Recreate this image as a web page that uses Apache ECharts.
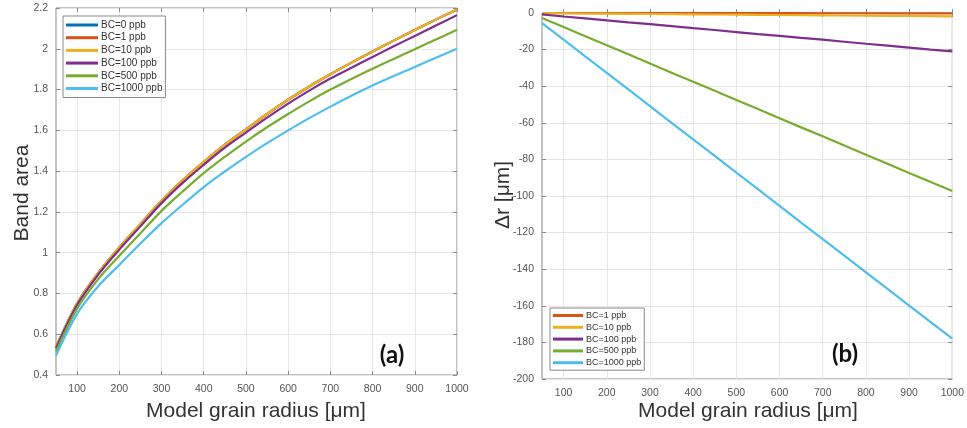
<!DOCTYPE html>
<html>
<head>
<meta charset="utf-8">
<script src="https://cdn.jsdelivr.net/npm/echarts@6/dist/echarts.min.js"></script>
<style>
  html, body { margin: 0; padding: 0; background: #fff; }
  #chart { width: 967px; height: 428px; }
</style>
</head>
<body>
<div id="chart"></div>
<script>
// Model grain radius [µm]
const radius = [50, 100, 150, 200, 250, 300, 350, 400, 450, 500, 550, 600, 650, 700, 750, 800, 850, 900, 950, 1000];
const radiusTicks = [100, 200, 300, 400, 500, 600, 700, 800, 900, 1000];

// (a) Band area vs grain radius
const areaBC0    = [0.535, 0.75, 0.90, 1.025, 1.14, 1.255, 1.355, 1.445, 1.53, 1.605, 1.68, 1.75, 1.815, 1.875, 1.932, 1.987, 2.04, 2.092, 2.143, 2.193];
const areaBC1    = [0.535, 0.75, 0.90, 1.025, 1.14, 1.255, 1.355, 1.445, 1.53, 1.605, 1.68, 1.75, 1.815, 1.875, 1.932, 1.987, 2.04, 2.092, 2.143, 2.193];
const areaBC10   = [0.535, 0.75, 0.90, 1.025, 1.14, 1.255, 1.355, 1.445, 1.53, 1.605, 1.68, 1.75, 1.815, 1.875, 1.932, 1.987, 2.04, 2.092, 2.143, 2.193];
const areaBC100  = [0.53, 0.743, 0.892, 1.015, 1.129, 1.243, 1.342, 1.431, 1.515, 1.589, 1.662, 1.731, 1.795, 1.854, 1.907, 1.96, 2.012, 2.063, 2.114, 2.165];
const areaBC500  = [0.515, 0.725, 0.87, 0.985, 1.095, 1.205, 1.30, 1.39, 1.47, 1.545, 1.615, 1.68, 1.742, 1.80, 1.852, 1.902, 1.95, 1.998, 2.046, 2.093];
const areaBC1000 = [0.495, 0.70, 0.835, 0.94, 1.045, 1.145, 1.235, 1.322, 1.398, 1.47, 1.537, 1.60, 1.66, 1.716, 1.77, 1.82, 1.866, 1.911, 1.956, 2.0];

// (b) Change in grain radius Δr [µm]
const drBC1    = [0, -0.01, -0.02, -0.03, -0.04, -0.05, -0.06, -0.07, -0.08, -0.09, -0.1, -0.11, -0.12, -0.13, -0.14, -0.15, -0.16, -0.17, -0.18, -0.19];
const drBC10   = [-0.1, -0.19, -0.28, -0.37, -0.46, -0.55, -0.64, -0.73, -0.82, -0.91, -1.0, -1.09, -1.18, -1.27, -1.36, -1.45, -1.54, -1.63, -1.72, -1.81];
const drBC100  = [-0.8, -1.9, -2.9, -4.0, -5.1, -6.1, -7.2, -8.3, -9.3, -10.4, -11.5, -12.5, -13.6, -14.6, -15.7, -16.8, -17.8, -18.9, -20.0, -21.0];
const drBC500  = [-2.7, -7.7, -12.7, -17.6, -22.6, -27.6, -32.6, -37.6, -42.5, -47.5, -52.5, -57.5, -62.5, -67.4, -72.4, -77.4, -82.4, -87.4, -92.3, -97.3];
const drBC1000 = [-5.5, -14.6, -23.7, -32.7, -41.8, -50.9, -60.0, -69.1, -78.1, -87.2, -96.3, -105.4, -114.5, -123.5, -132.6, -141.7, -150.8, -159.9, -168.9, -178.0];

const namesA = ['BC=0 ppb', 'BC=1 ppb', 'BC=10 ppb', 'BC=100 ppb', 'BC=500 ppb', 'BC=1000 ppb'];
const namesB = ['BC=1 ppb', 'BC=10 ppb', 'BC=100 ppb', 'BC=500 ppb', 'BC=1000 ppb'];
const colorsA = ['#0072BD', '#D95319', '#EDB120', '#7E2F8E', '#77AC30', '#4DBEEE'];
const colorsB = ['#D95319', '#EDB120', '#7E2F8E', '#77AC30', '#4DBEEE'];
const seriesA = [areaBC0, areaBC1, areaBC10, areaBC100, areaBC500, areaBC1000];
const seriesB = [drBC1, drBC10, drBC100, drBC500, drBC1000];

const FRAME = '#8a8a8a';
const GRIDLINE = '#e6e6e6';
const TICKTEXT = { color: '#555', fontSize: 10.5, fontFamily: 'Liberation Sans, Arial, sans-serif' };

function pairs(ys) { return radius.map((r, i) => [r, ys[i]]); }

function mainX(gridIndex) {
  return {
    type: 'value', gridIndex, min: 50, max: 1000, position: 'bottom',
    axisLine: { show: false },
    axisTick: { inside: true, length: 4, lineStyle: { color: FRAME }, customValues: radiusTicks },
    axisLabel: { ...TICKTEXT, margin: 9, customValues: radiusTicks, formatter: v => String(v) },
    splitLine: { show: true, lineStyle: { color: GRIDLINE, width: 1 } }
  };
}
function mirrorX(gridIndex) {
  return {
    type: 'value', gridIndex, min: 50, max: 1000, position: 'top',
    axisLine: { show: false },
    axisTick: { inside: true, length: 4, lineStyle: { color: FRAME }, customValues: radiusTicks },
    axisLabel: { show: false },
    splitLine: { show: false }
  };
}
function mainY(gridIndex, min, max, interval) {
  return {
    type: 'value', gridIndex, min, max, interval, position: 'left',
    axisLine: { show: false },
    axisTick: { inside: true, length: 4, lineStyle: { color: FRAME } },
    axisLabel: { ...TICKTEXT, margin: 8, formatter: v => String(Math.round(v * 10) / 10) },
    splitLine: { show: true, lineStyle: { color: GRIDLINE, width: 1 } }
  };
}
function mirrorY(gridIndex, min, max, interval) {
  return {
    type: 'value', gridIndex, min, max, interval, position: 'right',
    axisLine: { show: false },
    axisTick: { inside: true, length: 4, lineStyle: { color: FRAME } },
    axisLabel: { show: false },
    splitLine: { show: false }
  };
}

const series = [];
seriesA.forEach((ys, i) => series.push({
  name: namesA[i], type: 'line', xAxisIndex: 0, yAxisIndex: 0,
  data: pairs(ys), showSymbol: false, symbol: 'none', smooth: 0.35,
  lineStyle: { width: 2.2, color: colorsA[i] }, itemStyle: { color: colorsA[i] }
}));
seriesB.forEach((ys, i) => series.push({
  name: namesB[i], type: 'line', xAxisIndex: 1, yAxisIndex: 1,
  data: pairs(ys), showSymbol: false, symbol: 'none',
  lineStyle: { width: 2.2, color: colorsB[i] }, itemStyle: { color: colorsB[i] }
}));

const labelFont = 'Liberation Sans, Arial, sans-serif';
const option = {
  animation: false,
  backgroundColor: '#fff',
  grid: [
    { left: 56, top: 8, width: 401, height: 367, show: true, borderColor: FRAME, borderWidth: 1, backgroundColor: 'transparent' },
    { left: 542, top: 13, width: 413, height: 366, show: true, borderColor: FRAME, borderWidth: 1, backgroundColor: 'transparent' }
  ],
  xAxis: [mainX(0), mainX(1), mirrorX(0), mirrorX(1)],
  yAxis: [mainY(0, 0.4, 2.2, 0.2), mainY(1, -200, 0, 20), mirrorY(0, 0.4, 2.2, 0.2), mirrorY(1, -200, 0, 20)],
  legend: [
    {
      orient: 'vertical', left: 63, top: 16, data: namesA,
      icon: 'rect', itemWidth: 32, itemHeight: 3, itemGap: 2.7,
      padding: [4, 3, 4, 3], borderColor: FRAME, borderWidth: 1, backgroundColor: '#fff',
      textStyle: { fontSize: 10, color: '#333', fontFamily: labelFont, padding: [0, 0, 0, -2] },
      selectedMode: false
    },
    {
      orient: 'vertical', left: 550, top: 308, data: namesB,
      icon: 'rect', itemWidth: 30, itemHeight: 3, itemGap: 2.8,
      padding: [3, 3, 3, 3], borderColor: FRAME, borderWidth: 1, backgroundColor: '#fff',
      textStyle: { fontSize: 9, color: '#333', fontFamily: labelFont, padding: [0, 0, 0, -2] },
      selectedMode: false
    }
  ],
  graphic: [
    { type: 'text', x: 256, y: 411, style: { text: 'Model grain radius [μm]', font: '21px ' + labelFont, fill: '#333', align: 'center', verticalAlign: 'middle' } },
    { type: 'text', x: 748, y: 411, style: { text: 'Model grain radius [μm]', font: '21px ' + labelFont, fill: '#333', align: 'center', verticalAlign: 'middle' } },
    { type: 'text', x: 22, y: 193, rotation: Math.PI / 2, style: { text: 'Band area', font: '21px ' + labelFont, fill: '#333', align: 'center', verticalAlign: 'middle' } },
    { type: 'text', x: 503, y: 195, rotation: Math.PI / 2, style: { text: 'Δr [μm]', font: '21px ' + labelFont, fill: '#333', align: 'center', verticalAlign: 'middle' } },
    { type: 'text', x: 392, y: 355, style: { text: '(a)', font: 'bold 24px Lato, ' + labelFont, fill: '#111', align: 'center', verticalAlign: 'middle' } },
    { type: 'text', x: 845, y: 354, style: { text: '(b)', font: 'bold 24px Lato, ' + labelFont, fill: '#111', align: 'center', verticalAlign: 'middle' } }
  ],
  series
};

const chart = echarts.init(document.getElementById('chart'), null, { renderer: 'canvas' });
chart.setOption(option);
</script>
</body>
</html>
